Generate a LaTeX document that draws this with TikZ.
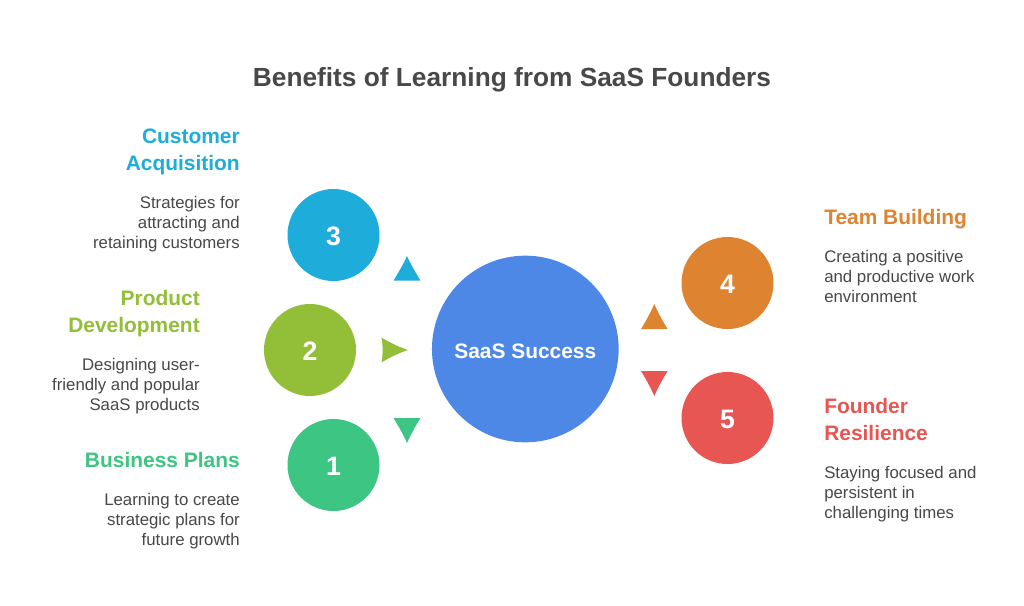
\documentclass[tikz,border=0pt]{standalone}
\usepackage{fontspec}
\setmainfont{Liberation Sans}
\definecolor{cgreen}{HTML}{3CC583}
\definecolor{clime}{HTML}{93BE37}
\definecolor{cblue}{HTML}{1EACDB}
\definecolor{corange}{HTML}{DE8431}
\definecolor{cred}{HTML}{E85654}
\definecolor{cmain}{HTML}{4E88E7}
\definecolor{ctext}{HTML}{484848}
\tikzset{
 px/.style={x=0.75pt,y=-0.75pt},
 num/.style={circle,minimum size=69pt,inner sep=0pt,text=white,text height=15.7pt,text depth=0pt,font=\bfseries\fontsize{20}{24}\selectfont},
 head/.style={font=\bfseries\fontsize{15.7}{20.2}\selectfont,inner sep=0pt},
 body/.style={font=\fontsize{12.6}{15}\selectfont,text=ctext,inner sep=0pt},
}
\begin{document}
\begin{tikzpicture}[px]
\useasboundingbox (0,0) rectangle (1024,606);
\fill[white] (0,0) rectangle (1024,606);
\node[font=\bfseries\fontsize{19.7}{24}\selectfont,text=ctext,inner sep=0pt] (title) at (512,79.5) {Benefits of Learning from SaaS Founders};
\node[circle,minimum size=140pt,inner sep=0pt,fill=cmain,text=white,text height=14.4pt,text depth=0pt,font=\bfseries\fontsize{15.7}{20}\selectfont] (main) at (525.3,349) {SaaS Success};
\node[num,fill=cblue] (n3) at (333.5,235) {3};
\node[num,fill=clime] (n2) at (310,350) {2};
\node[num,fill=cgreen] (n1) at (333.5,465) {1};
\node[num,fill=corange] (n4) at (727.5,283) {4};
\node[num,fill=cred] (n5) at (727.5,418) {5};
\fill[cblue] (393.5,280.7) -- (420.5,280.7) .. controls (415,271.5) and (410.5,264) .. (407,256) .. controls (403.5,264) and (399,271.5) .. (393.5,280.7) -- cycle;
\fill[clime] (381.5,337.5) .. controls (383,345) and (383,355) .. (381.5,362.5) .. controls (391,356.5) and (399.5,353) .. (408,350) .. controls (399.5,347) and (391,343.5) .. (381.5,337.5) -- cycle;
\fill[cgreen] (393.5,418) -- (420.5,418) .. controls (415,427) and (410.5,435) .. (407,443) .. controls (403.5,435) and (399,427) .. (393.5,418) -- cycle;
\fill[corange] (641,329) -- (667.7,329) .. controls (662,320) and (657.8,312) .. (654.3,304) .. controls (650.8,312) and (646.5,320) .. (641,329) -- cycle;
\fill[cred] (641,371) -- (667.7,371) .. controls (662,380) and (657.8,388) .. (654.3,396) .. controls (650.8,388) and (646.5,380) .. (641,371) -- cycle;
\node[head,text=cblue,align=right,anchor=north east] (h3) at (240,128.5) {Customer\\Acquisition};
\node[body,align=right,anchor=north east] (b3) at (240,196.5) {Strategies for\\attracting and\\retaining customers};
\node[head,text=clime,align=right,anchor=north east] (h2) at (200,290.5) {Product\\Development};
\node[body,align=right,anchor=north east] (b2) at (200,358.5) {Designing user-\\friendly and popular\\SaaS products};
\node[head,text=cgreen,align=right,anchor=north east] (h1) at (240,452) {Business Plans};
\node[body,align=right,anchor=north east] (b1) at (240,493.5) {Learning to create\\strategic plans for\\future growth};
\node[head,text=corange,align=left,anchor=north west] (h4) at (824,209.5) {Team Building};
\node[body,align=left,anchor=north west] (b4) at (824,250.5) {Creating a positive\\and productive work\\environment};
\node[head,text=cred,align=left,anchor=north west] (h5) at (824,398.5) {Founder\\Resilience};
\node[body,align=left,anchor=north west] (b5) at (824,466.5) {Staying focused and\\persistent in\\challenging times};
\end{tikzpicture}
\end{document}
